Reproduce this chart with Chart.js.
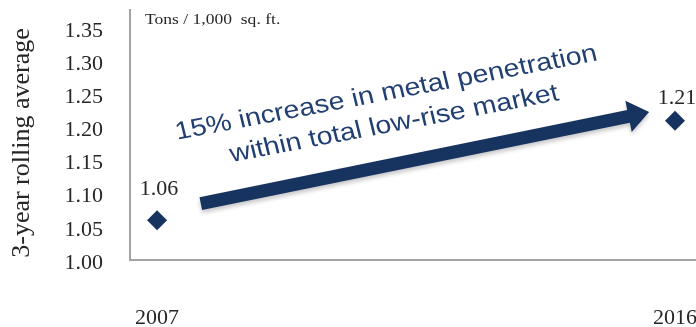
<!DOCTYPE html>
<html>
<head>
<meta charset="utf-8">
<script src="https://cdn.jsdelivr.net/npm/chart.js@4.4.1/dist/chart.umd.min.js"></script>
<style>
html, body { margin: 0; padding: 0; background: #fff; }
</style>
</head>
<body>
<canvas id="myChart" width="696" height="327"></canvas>
<script>
// data
var years = [2007, 2016];
var values = [1.06, 1.21];
var valueLabels = ['1.06', '1.21'];
var yTicks = [1.00, 1.05, 1.10, 1.15, 1.20, 1.25, 1.30, 1.35];
var xTicks = [2007, 2016];
var yTitle = '3-year rolling average';
var unitNote = 'Tons / 1,000  sq. ft.';
var noteLines = ['15% increase in metal penetration', 'within total low-rise market'];

var navy = '#17335f';
var noteBlue = '#213f70';
var axisGrey = '#a3a3a3';
var textGrey = '#262626';
var serif = '"Liberation Serif", "Times New Roman", serif';
var sans = '"Liberation Sans", Arial, sans-serif';

// label lift above each point, px
var labelLift = [31, 23];

var ctx = document.getElementById('myChart').getContext('2d');

function stretchText(c, str, x, y, ang, sx) {
    c.save();
    c.translate(x, y);
    c.scale(sx, 1);
    c.rotate(Math.atan(sx * Math.tan(ang)));
    c.fillText(str, 0, 0);
    c.restore();
}

var notes = {
    id: 'notes',
    afterDraw: function (chart) {
        var c = chart.ctx;
        var xs = chart.scales.x, ys = chart.scales.y;
        var area = chart.chartArea;

        // arrow
        var x1 = xs.getPixelForValue(2007.76), y1 = ys.getPixelForValue(1.085);
        var x2 = xs.getPixelForValue(2015.55), y2 = ys.getPixelForValue(1.223);
        var len = Math.hypot(x2 - x1, y2 - y1);
        var sw = 13, hl = 21, hw = 32;
        c.save();
        c.translate(x1, y1);
        c.rotate(Math.atan2(y2 - y1, x2 - x1));
        c.shadowColor = 'rgba(0,0,0,0.22)';
        c.shadowBlur = 4;
        c.shadowOffsetY = 3;
        c.fillStyle = navy;
        c.beginPath();
        c.moveTo(0, -sw / 2);
        c.lineTo(len - hl, -sw / 2);
        c.lineTo(len - hl, -hw / 2);
        c.lineTo(len, 0);
        c.lineTo(len - hl, hw / 2);
        c.lineTo(len - hl, sw / 2);
        c.lineTo(0, sw / 2);
        c.closePath();
        c.fill();
        c.restore();

        // slanted note
        var ang = -10.7 * Math.PI / 180;
        c.save();
        c.fillStyle = noteBlue;
        c.font = '25px ' + sans;
        c.textAlign = 'center';
        c.textBaseline = 'alphabetic';
        stretchText(c, noteLines[0], xs.getPixelForValue(2011.01), ys.getPixelForValue(1.2413), ang, 1.14);
        stretchText(c, noteLines[1], xs.getPixelForValue(2011.15), ys.getPixelForValue(1.1946), ang, 1.14);
        c.restore();

        // value labels
        c.save();
        c.fillStyle = textGrey;
        c.font = '22px ' + serif;
        c.textAlign = 'center';
        c.textBaseline = 'middle';
        chart.getDatasetMeta(0).data.forEach(function (pt, i) {
            c.fillText(valueLabels[i], pt.x + 2, pt.y - labelLift[i]);
        });
        c.restore();

        // unit note
        c.save();
        c.fillStyle = textGrey;
        c.font = '15px ' + serif;
        c.textAlign = 'left';
        c.textBaseline = 'middle';
        stretchText(c, unitNote, area.left + 15, area.top + 10, 0, 1.17);
        c.restore();

        // y title
        c.save();
        c.fillStyle = textGrey;
        c.font = '26px ' + serif;
        c.textAlign = 'center';
        c.textBaseline = 'middle';
        c.translate(22, 143);
        c.rotate(-Math.PI / 2);
        c.fillText(yTitle, 0, 0);
        c.restore();
    }
};

var myChart = new Chart(ctx, {
    type: 'scatter',
    data: {
        datasets: [{
            data: years.map(function (yr, i) { return { x: yr, y: values[i] }; }),
            pointStyle: 'rectRot',
            pointRadius: 10,
            pointHoverRadius: 10,
            backgroundColor: navy,
            borderColor: navy,
            borderWidth: 0,
            clip: false
        }]
    },
    options: {
        responsive: false,
        animation: false,
        layout: { autoPadding: false, padding: { top: 10, right: 0, bottom: 0, left: 0 } },
        plugins: {
            legend: { display: false },
            tooltip: { enabled: false }
        },
        scales: {
            x: {
                type: 'linear',
                min: 2006.53,
                max: 2016.365,
                afterBuildTicks: function (s) { s.ticks = xTicks.map(function (v) { return { value: v }; }); },
                afterFit: function (s) { s.height = 67; s.paddingLeft = 0; s.paddingRight = 0; },
                grid: { display: false, drawTicks: false },
                border: { display: true, color: axisGrey, width: 2 },
                ticks: {
                    padding: 45,
                    autoSkip: false,
                    maxRotation: 0,
                    color: textGrey,
                    font: { family: serif, size: 22 },
                    callback: function (v) { return String(v); }
                }
            },
            y: {
                min: 1.0,
                max: 1.377,
                afterBuildTicks: function (s) { s.ticks = yTicks.map(function (v) { return { value: v }; }); },
                afterFit: function (s) { s.width = 130; s.paddingTop = 0; s.paddingBottom = 0; },
                grid: { display: false, drawTicks: false },
                border: { display: true, color: axisGrey, width: 2 },
                ticks: {
                    padding: 27,
                    labelOffset: 3,
                    color: textGrey,
                    font: { family: serif, size: 22 },
                    callback: function (v) { return v.toFixed(2); }
                }
            }
        }
    },
    plugins: [notes]
});
</script>
</body>
</html>
